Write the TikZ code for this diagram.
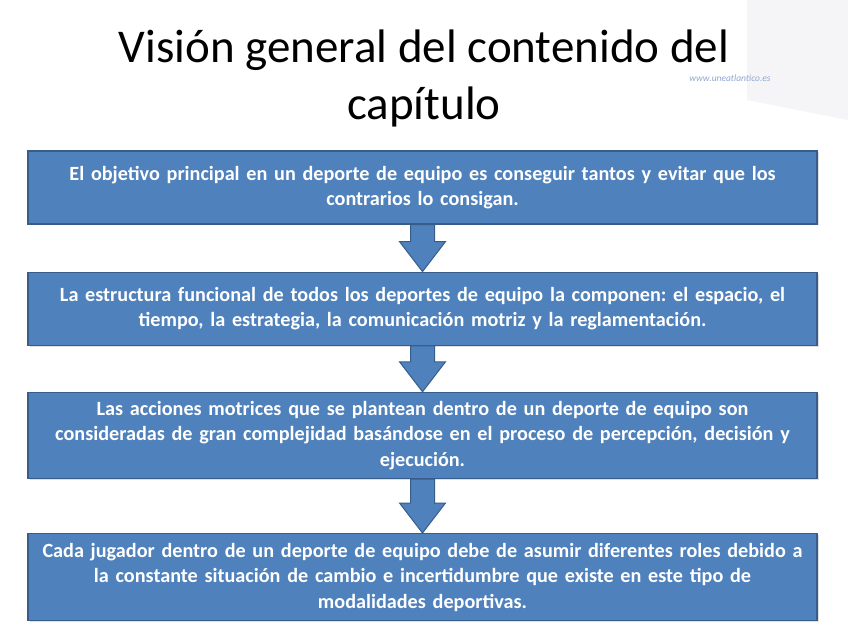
\documentclass[tikz,border=0pt]{standalone}
\usepackage{fontspec}
\setmainfont{Carlito}
\usetikzlibrary{positioning,calc,shadows}
\definecolor{Primary}{HTML}{4F81BD}
\definecolor{PrimaryDark}{HTML}{385D8A}
\definecolor{Marca}{HTML}{8FA8D0}
\definecolor{Fondo}{HTML}{F5F5F8}

\tikzset{
	caja/.style={
		draw=PrimaryDark,
		fill=Primary,
		line width=1.2pt,
		minimum width=789pt,
		text width=785pt,
		align=center,
		text=white,
		inner sep=0pt,
		font=\fontsize{20.2}{25.5}\selectfont\bfseries\frenchspacing,
		drop shadow={opacity=0.25,shadow xshift=1.5pt,shadow yshift=-1.5pt}
	},
	flecha/.style={
		draw=PrimaryDark,
		fill=Primary,
		line width=1pt
	}
}

% flecha de bloque entre dos cajas
\newcommand{\flechabloque}[2]{
	\draw[flecha] ($(#1.south)+(-12,0)$) -- ($(#1.south)+(12,0)$)
		-- ($(#2.north)+(12,-30)$) -- ($(#2.north)+(23,-30)$)
		-- (#2.north)
		-- ($(#2.north)+(-23,-30)$) -- ($(#2.north)+(-12,-30)$) -- cycle;
}

\begin{document}
\begin{tikzpicture}[x=1pt,y=-1pt]
	\useasboundingbox (0,0) rectangle (848,636);
	\fill[white] (0,0) rectangle (848,636);
	% fondo
	\fill[Fondo] (747,0) -- (848,0) -- (848,120) -- (747,100) -- cycle;
	
	\node[font=\fontsize{47}{57}\selectfont, align=center] (titulo) at (424,78)
		{Visión general del contenido del\\capítulo};
	\node[font=\fontsize{9.5}{11}\selectfont\itshape, text=Marca, inner sep=1pt] (marca) at (730,78)
		{www.uneatlantico.es};
	
	\node[caja, minimum height=73pt] (objetivo) at (422.5,187.5) {
		El objetivo principal en un deporte de equipo es conseguir tantos y evitar que los\\
		contrarios lo consigan.
	};
	\node[caja, minimum height=73pt, below=47pt of objetivo] (estructura) {
		La estructura funcional de todos los deportes de equipo la componen: el espacio, el\\
		tiempo, la estrategia, la comunicación motriz y la reglamentación.
	};
	\node[caja, minimum height=86pt, below=46pt of estructura] (acciones) {
		Las acciones motrices que se plantean dentro de un deporte de equipo son\\
		consideradas de gran complejidad basándose en el proceso de percepción, decisión y\\
		ejecución.
	};
	\node[caja, minimum height=87pt, below=54pt of acciones] (jugador) {
		Cada jugador dentro de un deporte de equipo debe de asumir diferentes roles debido a\\
		la constante situación de cambio e incertidumbre que existe en este tipo de\\
		modalidades deportivas.
	};
	
	\flechabloque{objetivo}{estructura}
	\flechabloque{estructura}{acciones}
	\flechabloque{acciones}{jugador}
\end{tikzpicture}
\end{document}
